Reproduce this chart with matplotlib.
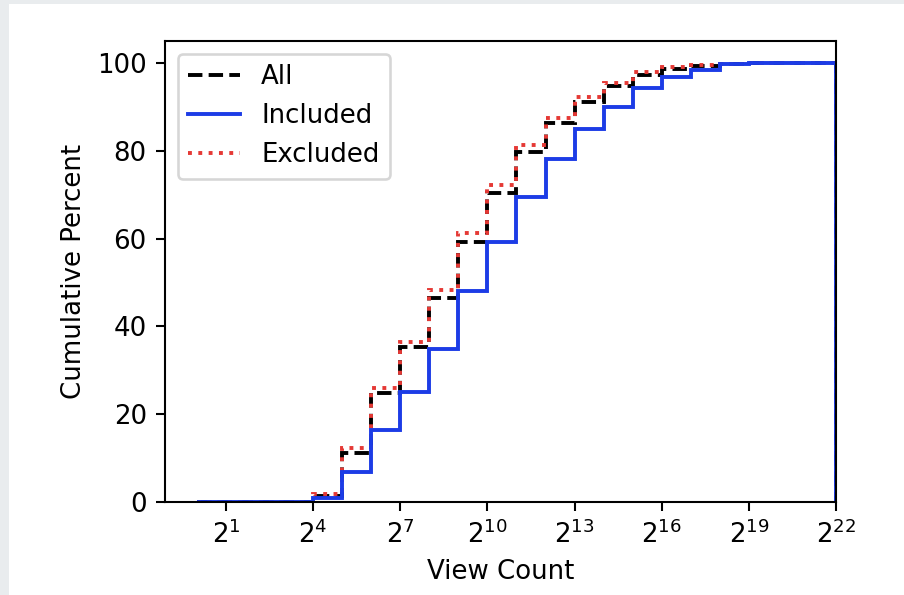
import matplotlib
matplotlib.use("Agg")
import matplotlib.pyplot as plt
from matplotlib.patches import Rectangle
from matplotlib.ticker import FixedLocator, LogFormatterMathtext, NullLocator

# bin edges are powers of two, 2^0 .. 2^22
EXPONENTS = list(range(0, 23))
TICK_EXPONENTS = [1, 4, 7, 10, 13, 16, 19, 22]

# cumulative percent at the end of each bin
all_pct = [0, 0, 0, 0, 1.4, 11.2, 24.8, 35.2, 46.4, 59.3, 70.3,
           79.7, 86.3, 91.2, 94.8, 97.3, 98.6, 99.3, 99.8, 100, 100, 100]
included_pct = [0, 0, 0, 0, 0.8, 6.9, 16.4, 25.1, 34.8, 48.1, 59.2,
                69.5, 78.1, 84.9, 89.9, 94.2, 96.9, 98.4, 99.7, 100, 100, 100]
excluded_pct = [0, 0, 0, 0, 1.75, 12.2, 26.0, 36.5, 48.4, 61.2, 72.2,
                81.3, 87.5, 92.2, 95.5, 97.9, 99.0, 99.5, 99.8, 100, 100, 100]

edges = [2.0 ** k for k in EXPONENTS]

fig = plt.figure(figsize=(904 / 187, 595 / 187), dpi=187, facecolor="#e9ecee")
fig.patches.append(Rectangle((9 / 904, 0), 1, 1 - 4 / 595, transform=fig.transFigure,
                             facecolor="white", edgecolor="none", zorder=-1))
ax = fig.add_axes([165 / 904, 93 / 595, (836 - 165) / 904, (502 - 41) / 595])

ax.stairs(all_pct, edges, baseline=0, color="black", linestyle="--", linewidth=1.5, label="All")
ax.stairs(excluded_pct, edges, baseline=0, color="#e53935", linestyle=":", linewidth=1.5, label="Excluded")
ax.stairs(included_pct, edges, baseline=0, color="#1c3ce6", linestyle="-", linewidth=1.5, label="Included")

ax.set_xscale("log", base=2)
ax.set_xlim(2 ** -1.1, 2 ** 22)
ax.set_ylim(0, 105)
ax.xaxis.set_major_locator(FixedLocator([2.0 ** k for k in TICK_EXPONENTS]))
ax.xaxis.set_major_formatter(LogFormatterMathtext(base=2))
ax.xaxis.set_minor_locator(NullLocator())
ax.set_yticks([0, 20, 40, 60, 80, 100])

ax.set_xlabel("View Count")
ax.set_ylabel("Cumulative Percent")

handles, labels = ax.get_legend_handles_labels()
order = [0, 2, 1]
ax.legend([handles[i] for i in order], [labels[i] for i in order], loc="upper left")

fig.savefig("out.png", dpi=187, facecolor=fig.get_facecolor())
